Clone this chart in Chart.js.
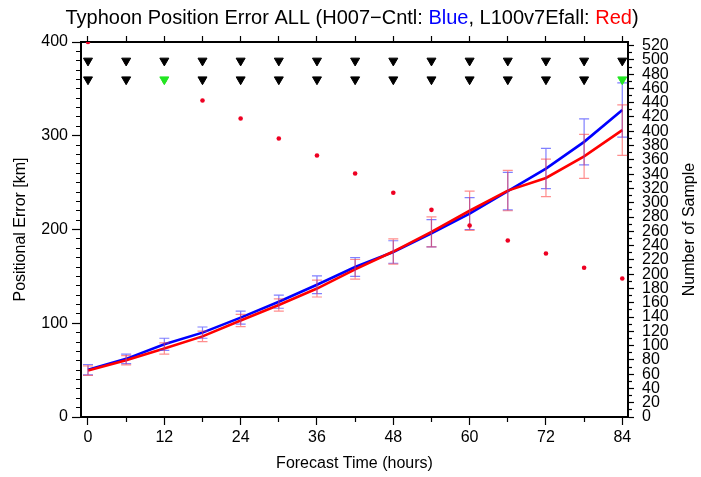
<!DOCTYPE html>
<html>
<head>
<meta charset="utf-8">
<script src="https://cdn.jsdelivr.net/npm/chart.js@4.4.0/dist/chart.umd.min.js"></script>
<style>
    html, body { margin: 0; padding: 0; background: #fff; }
    #chart-wrap { position: relative; width: 701px; height: 477px; }
</style>
</head>
<body>
<div id="chart-wrap"><canvas id="position-error-chart"></canvas></div>
<script>
// forecast lead times (hours)
var forecastHours = [0, 6, 12, 18, 24, 30, 36, 42, 48, 54, 60, 66, 72, 78, 84];

// H007-Cntl (blue) mean error and error bar half width, km
var cntlError = [50.5, 62, 77.5, 90, 106, 123, 141, 160, 176, 196, 217, 241, 265, 293.5, 327.5];
var cntlSpread = [5.5, 5, 6.5, 6, 7, 7, 9.5, 10, 12, 14.5, 17, 20, 21.5, 24.5, 29];

// L100v7Efall (red) mean error and error bar half width, km
var expError = [49.5, 60.5, 73, 86, 103, 119.5, 137, 157.5, 176.5, 197.5, 220, 241.5, 255, 278, 306];
var expSpread = [5, 5, 6, 5.5, 6.5, 6.5, 9, 10.5, 13.5, 16, 21, 21.5, 20, 23.5, 27];

// number of samples (right axis)
var sampleCount = [525, 497, 471, 443, 418, 390, 366, 341, 314, 290, 268, 247, 229, 209, 194];

// significance marker rows (left axis level) and hours flagged green on the lower row
var markLevelUpper = 380;
var markLevelLower = 360;
var greenHours = [12, 84];

// axis ticks
var xLabelHours = [0, 12, 24, 36, 48, 60, 72, 84];
var leftLabels = [0, 100, 200, 300, 400];
var rightMax = 525;

var FONT = '"Liberation Sans", Arial, Helvetica, sans-serif';
Chart.defaults.font.family = FONT;
Chart.defaults.color = '#000';

function stepTicks(from, to, step) {
    var out = [];
    for (var v = from; v <= to + 1e-9; v += step) {
        out.push({ value: v });
    }
    return out;
}

var upperRow = forecastHours.map(function (h) { return { x: h, y: markLevelUpper }; });
var lowerRow = forecastHours.map(function (h) { return { x: h, y: markLevelLower }; });
var lowerColors = forecastHours.map(function (h) { return greenHours.indexOf(h) >= 0 ? '#22e622' : '#000'; });

var errorBarPlugin = {
    id: 'errorBars',
    afterDatasetDraw: function (chart, args) {
        if (args.index !== 3) {
            return;
        }
        var ctx = chart.ctx;
        var xs = chart.scales.x;
        var ys = chart.scales.y;
        var sets = [
            { mean: cntlError, spread: cntlSpread, color: 'rgba(60, 60, 255, 0.65)' },
            { mean: expError, spread: expSpread, color: 'rgba(255, 50, 50, 0.55)' }
        ];
        ctx.save();
        ctx.lineWidth = 1.2;
        sets.forEach(function (s) {
            ctx.strokeStyle = s.color;
            forecastHours.forEach(function (h, i) {
                var px = xs.getPixelForValue(h);
                var top = ys.getPixelForValue(s.mean[i] + s.spread[i]);
                var bot = ys.getPixelForValue(s.mean[i] - s.spread[i]);
                ctx.beginPath();
                ctx.moveTo(px, top);
                ctx.lineTo(px, bot);
                ctx.moveTo(px - 5, top);
                ctx.lineTo(px + 5, top);
                ctx.moveTo(px - 5, bot);
                ctx.lineTo(px + 5, bot);
                ctx.stroke();
            });
        });
        ctx.restore();
    }
};

var textPlugin = {
    id: 'extraText',
    afterDraw: function (chart) {
        var ctx = chart.ctx;
        var parts = [
            ['Typhoon Position Error ALL (H007\u2212Cntl: ', '#000'],
            ['Blue', '#0000ff'],
            [', L100v7Efall: ', '#000'],
            ['Red', '#ff0000'],
            [')', '#000']
        ];
        ctx.save();
        ctx.font = '20px ' + FONT;
        ctx.textBaseline = 'alphabetic';
        ctx.textAlign = 'left';
        var total = 0;
        parts.forEach(function (p) { total += ctx.measureText(p[0]).width; });
        var x = 352 - total / 2;
        parts.forEach(function (p) {
            ctx.fillStyle = p[1];
            ctx.fillText(p[0], x, 24);
            x += ctx.measureText(p[0]).width;
        });

        // right axis title, reading bottom to top
        var area = chart.chartArea;
        ctx.font = '16px ' + FONT;
        ctx.fillStyle = '#000';
        ctx.translate(690, (area.top + area.bottom) / 2);
        ctx.rotate(-Math.PI / 2);
        ctx.textAlign = 'center';
        ctx.textBaseline = 'middle';
        ctx.fillText('Number of Sample', 0, 0);
        ctx.restore();
    }
};

var ctx = document.getElementById('position-error-chart');
var PositionErrorChart = new Chart(ctx, {
    type: 'line',
    data: {
        datasets: [{
            label: 'marks upper',
            type: 'scatter',
            data: upperRow,
            order: 0,
            pointStyle: 'triangle',
            rotation: 180,
            pointRadius: 5.2,
            pointBackgroundColor: '#000',
            pointBorderColor: '#000',
            pointBorderWidth: 1,
            xAxisID: 'x',
            yAxisID: 'y'
        }, {
            label: 'marks lower',
            type: 'scatter',
            data: lowerRow,
            order: 0,
            pointStyle: 'triangle',
            rotation: 180,
            pointRadius: 5.2,
            pointBackgroundColor: lowerColors,
            pointBorderColor: lowerColors,
            pointBorderWidth: 1,
            xAxisID: 'x',
            yAxisID: 'y'
        }, {
            label: 'Number of Sample',
            type: 'scatter',
            data: forecastHours.map(function (h, i) { return { x: h, y: sampleCount[i] }; }),
            order: 1,
            pointRadius: 2.3,
            pointBackgroundColor: '#ee0022',
            pointBorderWidth: 0,
            xAxisID: 'x',
            yAxisID: 'yRight'
        }, {
            label: 'L100v7Efall',
            data: forecastHours.map(function (h, i) { return { x: h, y: expError[i] }; }),
            order: 2,
            borderColor: '#ff0000',
            borderWidth: 2.6,
            pointRadius: 0,
            tension: 0,
            xAxisID: 'x',
            yAxisID: 'y'
        }, {
            label: 'H007-Cntl',
            data: forecastHours.map(function (h, i) { return { x: h, y: cntlError[i] }; }),
            order: 3,
            borderColor: '#0000ff',
            borderWidth: 2.6,
            pointRadius: 0,
            tension: 0,
            xAxisID: 'x',
            yAxisID: 'y'
        }]
    },
    plugins: [errorBarPlugin, textPlugin],
    options: {
        responsive: true,
        maintainAspectRatio: false,
        animation: false,
        layout: { padding: 0 },
        plugins: {
            legend: { display: false },
            tooltip: { enabled: false }
        },
        scales: {
            x: {
                type: 'linear',
                position: 'bottom',
                min: -1.1,
                max: 84.9,
                afterBuildTicks: function (scale) { scale.ticks = stepTicks(0, 84, 6); },
                afterFit: function (scale) { scale.height = 60; },
                border: { color: '#000', width: 2 },
                grid: {
                    drawOnChartArea: false,
                    tickLength: 8,
                    tickColor: '#000',
                    tickWidth: 1.2,
                    tickBorderDash: function (c) {
                        return xLabelHours.indexOf(c.tick.value) >= 0 ? [] : [4, 20];
                    }
                },
                ticks: {
                    autoSkip: false,
                    maxRotation: 0,
                    padding: 3,
                    font: { size: 16 },
                    callback: function (v) { return xLabelHours.indexOf(v) >= 0 ? String(v) : ''; }
                },
                title: {
                    display: true,
                    text: 'Forecast Time (hours)',
                    font: { size: 16 },
                    padding: { top: 0, bottom: 4 }
                }
            },
            xTop: {
                type: 'linear',
                position: 'top',
                min: -1.1,
                max: 84.9,
                afterBuildTicks: function (scale) { scale.ticks = stepTicks(0, 84, 6); },
                afterFit: function (scale) { scale.height = 42; },
                border: { color: '#000', width: 2 },
                grid: {
                    drawOnChartArea: false,
                    tickLength: 6,
                    tickColor: '#000',
                    tickWidth: 1.2
                },
                ticks: { display: false }
            },
            y: {
                type: 'linear',
                position: 'left',
                min: 0,
                max: 400,
                afterBuildTicks: function (scale) { scale.ticks = stepTicks(0, 400, 10); },
                afterFit: function (scale) { scale.width = 81; },
                border: { color: '#000', width: 2 },
                grid: {
                    drawOnChartArea: false,
                    tickLength: 9,
                    tickColor: '#000',
                    tickWidth: 1.2,
                    tickBorderDash: function (c) {
                        return leftLabels.indexOf(c.tick.value) >= 0 ? [] : [0, 4, 5, 0];
                    }
                },
                ticks: {
                    autoSkip: false,
                    padding: 4,
                    font: { size: 16 },
                    callback: function (v) { return leftLabels.indexOf(v) >= 0 ? String(v) : ''; }
                },
                title: {
                    display: true,
                    text: 'Positional Error [km]',
                    font: { size: 16 },
                    padding: { top: 11, bottom: 0 }
                }
            },
            yRight: {
                type: 'linear',
                position: 'right',
                min: 0,
                max: rightMax,
                afterBuildTicks: function (scale) { scale.ticks = stepTicks(0, 520, 10); },
                afterFit: function (scale) { scale.width = 73; },
                border: { color: '#000', width: 2 },
                grid: {
                    drawOnChartArea: false,
                    tickLength: 6,
                    tickColor: '#000',
                    tickWidth: 1.2,
                    tickBorderDash: function (c) {
                        return c.tick.value % 20 === 0 ? [] : [3, 20];
                    }
                },
                ticks: {
                    autoSkip: false,
                    padding: 8,
                    font: { size: 16 },
                    callback: function (v) { return v % 20 === 0 ? String(v) : ''; }
                }
            }
        }
    }
});
</script>
</body>
</html>
